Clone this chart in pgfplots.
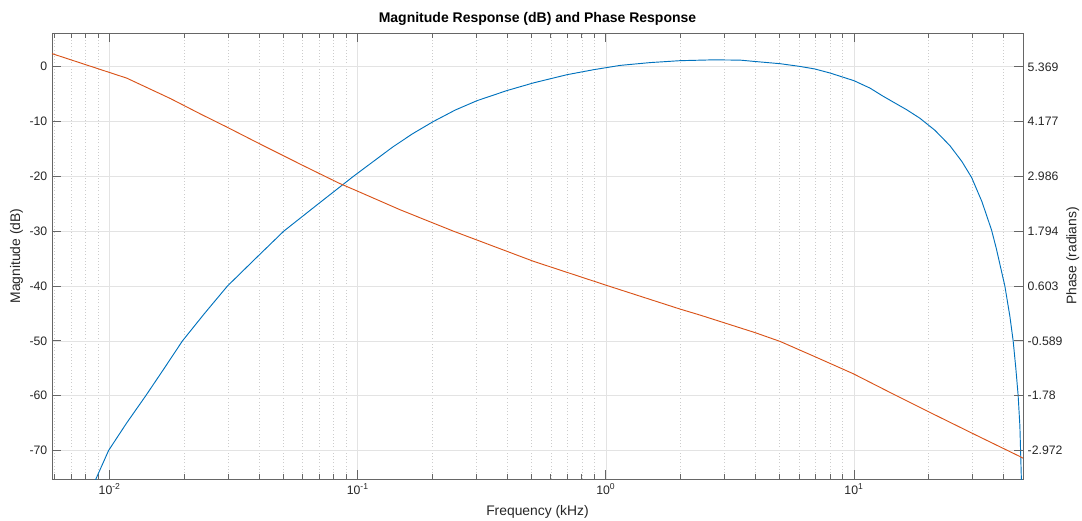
\documentclass[border=0pt]{standalone}
\usepackage{fontspec}
\setmainfont{Liberation Sans}
\usepackage{pgfplots}
\pgfplotsset{compat=1.18}
\definecolor{mblue}{rgb}{0,0.447,0.741}
\definecolor{morange}{rgb}{0.85,0.325,0.098}
\definecolor{axgray}{gray}{0.40}
\definecolor{txtgray}{gray}{0.15}
\begin{document}
\begin{tikzpicture}
\begin{axis}[name=ax,
  scale only axis, width=728.25pt, height=334.5pt,
  xmode=log, xmin=0.005855, xmax=48,
  ymin=-75.2, ymax=6.15,
  tick align=inside,
  major tick length=7pt, minor tick length=3.5pt,
  axis line style={axgray, line width=0.6pt},
  tick style={axgray, line width=0.6pt},
  ticklabel style={font=\fontsize{9.2}{10}\selectfont, text=txtgray},
  label style={font=\fontsize{10.4}{12}\selectfont, text=txtgray},
  xlabel style={yshift=-1pt},
  ylabel style={yshift=-2pt},
  xtick={0.01,0.1,1,10},
  xticklabels={10\textsuperscript{-2},10\textsuperscript{-1},10\textsuperscript{0},10\textsuperscript{1}},
  minor xtick={0.006,0.007,0.008,0.009,0.02,0.03,0.04,0.05,0.06,0.07,0.08,0.09,0.2,0.3,0.4,0.5,0.6,0.7,0.8,0.9,2,3,4,5,6,7,8,9,20,30,40},
  xtick pos=both, xticklabel pos=lower,
  ytick={-70,-60,-50,-40,-30,-20,-10,0},
  yticklabels={-70,-60,-50,-40,-30,-20,-10,0},
  ytick pos=left,
  xmajorgrids, xminorgrids, ymajorgrids,
  major grid style={gray!22, line width=0.5pt},
  minor grid style={gray!40, dotted, line width=0.4pt},
  xlabel={Frequency (kHz)}, ylabel={Magnitude (dB)},
  title={\textbf{Magnitude Response (dB) and Phase Response}},
  title style={font=\fontsize{10.5}{12}\selectfont, text=black, yshift=-4pt},
]
\addplot[mblue, line width=0.7pt] coordinates {
(0.008377,-77.5) (0.008800,-75.2) (0.009899,-70) (0.01170,-65.0) (0.013985,-60)
(0.016488,-55.2) (0.019656,-50) (0.02412,-45) (0.02984,-40) (0.03870,-35)
(0.05029,-30) (0.06940,-25) (0.09601,-20) (0.1378,-14.7) (0.166,-12.25)
(0.2016,-10) (0.2472,-7.9) (0.3022,-6.2) (0.3994,-4.35) (0.5110,-2.95)
(0.6966,-1.46) (0.8915,-0.55) (1.1418,0.24) (1.508,0.75) (1.991,1.1)
(2.705,1.25) (3.475,1.2) (3.994,0.95) (5.035,0.55) (6.061,0.05)
(6.966,-0.42) (8.007,-1.15) (10.0,-2.55) (11.60,-3.9) (13.12,-5.4)
(16.31,-7.85) (18.44,-9.4) (21.20,-11.6) (24.36,-14.4) (27.23,-17.3)
(29.79,-20.2) (32.78,-24.6) (35.86,-29.8) (37.49,-33.2) (40.56,-40)
(42.49,-45.5) (43.81,-50) (44.91,-55) (45.89,-60) (46.63,-65.5)
(47.28,-75.2) (47.7,-100) (48,-130)
};
\end{axis}
\begin{axis}[
  scale only axis, width=728.25pt, height=334.5pt,
  xmode=log, xmin=0.005855, xmax=48,
  ymin=-3.592, ymax=6.103,
  hide x axis,
  axis y line*=right,
  tick align=inside,
  major tick length=7pt,
  axis line style={axgray, line width=0.6pt},
  tick style={axgray, line width=0.6pt},
  ticklabel style={font=\fontsize{9.2}{10}\selectfont, text=txtgray},
  label style={font=\fontsize{10.4}{12}\selectfont, text=txtgray},
  ylabel style={yshift=4pt},
  ytick={-2.972,-1.78,-0.589,0.603,1.794,2.986,4.177,5.369},
  yticklabels={-2.972,-1.78,-0.589,0.603,1.794,2.986,4.177,5.369},
  ylabel={Phase (radians)},
]
\addplot[morange, line width=0.7pt] coordinates {
(0.005855,5.655) (0.011720,5.122) (0.017578,4.678) (0.02344,4.332)
(0.02938,4.070) (0.04004,3.700) (0.05981,3.229) (0.08408,2.838)
(0.0999,2.664) (0.1484,2.259) (0.2433,1.794) (0.5110,1.140) (0.9935,0.627)
(1.991,0.102) (2.398,-0.029) (3.994,-0.410) (5.035,-0.601) (6.966,-0.934)
(9.936,-1.304) (13.96,-1.709) (19.92,-2.126) (30.71,-2.626) (46.63,-3.103)
(48,-3.139)
};
\end{axis}
\pgfresetboundingbox
\path[use as bounding box] ([shift={(-39pt,-30.75pt)}]ax.south west) rectangle ([shift={(44.25pt,24.75pt)}]ax.north east);
\end{tikzpicture}
\end{document}
